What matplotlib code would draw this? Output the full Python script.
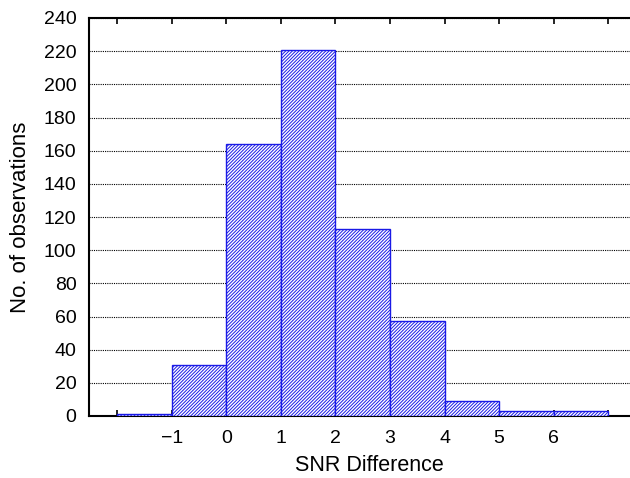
import matplotlib
matplotlib.use("Agg")
import matplotlib.pyplot as plt
import numpy as np

bin_edges = [-2, -1, 0, 1, 2, 3, 4, 5, 6, 7]
counts = [1, 31, 164, 221, 113, 57, 9, 3, 3]
xtick_vals = [-2, -1, 0, 1, 2, 3, 4, 5, 6, 7]
xtick_labels = ["", "\u22121", "0", "1", "2", "3", "4", "5", "6", ""]
ytick_vals = list(range(0, 241, 20))

plt.rcParams['font.family'] = ['Liberation Sans', 'DejaVu Sans']
plt.rcParams['hatch.linewidth'] = 0.7
plt.rcParams['hatch.color'] = '#4848dc'

fig = plt.figure(figsize=(6.3, 4.78), dpi=100)
ax = fig.add_axes([89/630, 1 - 416/478, 560/630, (416 - 18)/478])

lefts = np.array(bin_edges[:-1])
widths = np.diff(bin_edges)
ax.bar(lefts, counts, width=widths, align='edge', facecolor='white',
       edgecolor='#1a1ae6', hatch='//////////', linewidth=1.0, zorder=3)

ax.set_xlim(-2.52, 7.75)
ax.set_ylim(0, 240)
ax.set_yticks(ytick_vals)
ax.set_xticks(xtick_vals)
ax.set_xticklabels(xtick_labels)
ax.yaxis.grid(True, linestyle=(0, (1, 1)), color='black', linewidth=0.8, zorder=0)
ax.set_axisbelow(True)

for s in ['left', 'bottom', 'top']:
    ax.spines[s].set_linewidth(1.5)
ax.spines['right'].set_visible(False)

ax.tick_params(axis='x', direction='in', top=True, bottom=True, length=4, width=1.2,
               labelsize=14, pad=10)
ax.tick_params(axis='y', direction='in', length=0, labelsize=14, pad=9)

ax.set_xlabel('SNR Difference', fontsize=15.5, labelpad=6)
ax.set_ylabel('No. of observations', fontsize=16, labelpad=9)

fig.savefig('out.png', dpi=100)
